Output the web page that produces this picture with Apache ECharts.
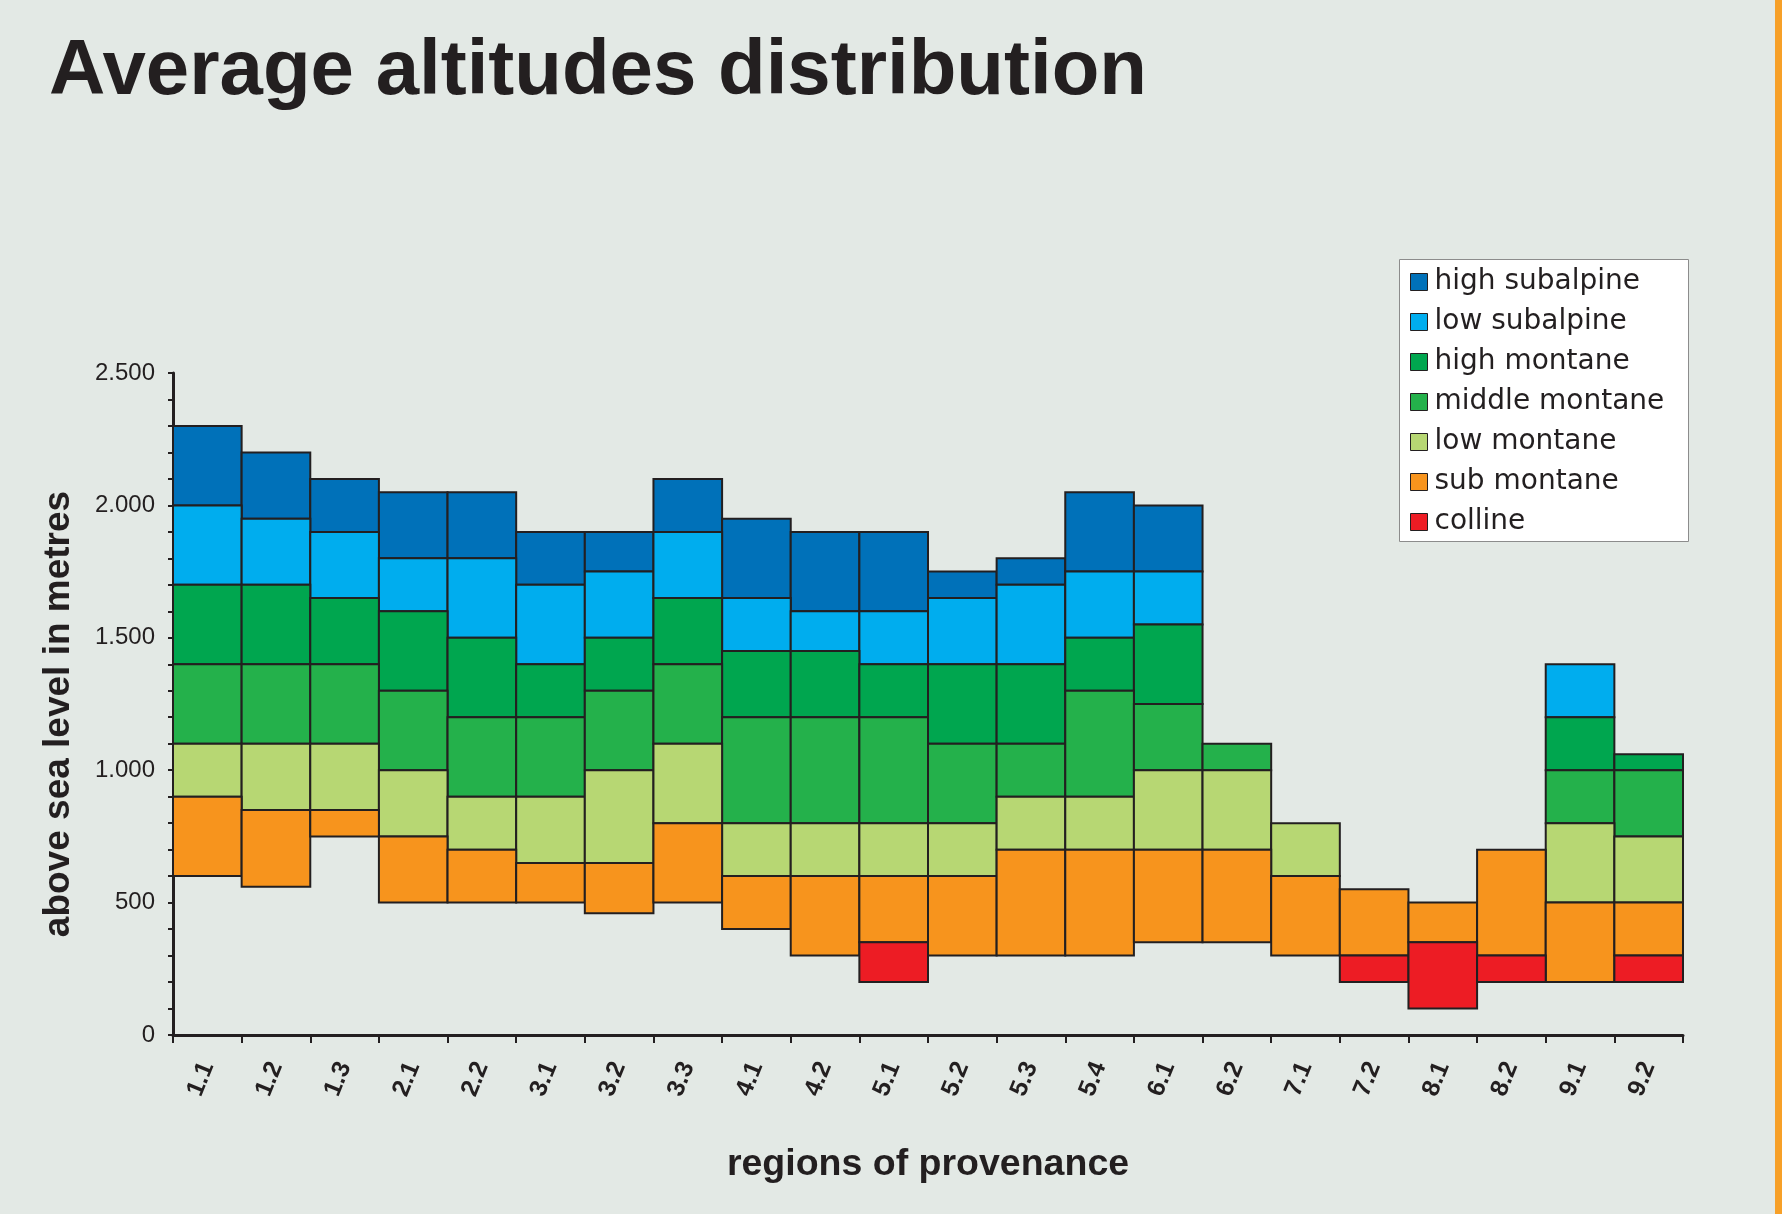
<!DOCTYPE html>
<html>
<head>
<meta charset="utf-8">
<script src="https://cdn.jsdelivr.net/npm/echarts@6/dist/echarts.min.js"></script>
<style>
  html, body { margin: 0; padding: 0; background: #e3e9e5; }
  #chart { width: 1782px; height: 1214px; }
</style>
</head>
<body>
<div id="chart"></div>
<script>
const categories = ['1.1','1.2','1.3','2.1','2.2','3.1','3.2','3.3','4.1','4.2','5.1','5.2','5.3','5.4','6.1','6.2','7.1','7.2','8.1','8.2','9.1','9.2'];
const yTickLabels = ['0','500','1.000','1.500','2.000','2.500'];
const seriesNames = ['high subalpine','low subalpine','high montane','middle montane','low montane','sub montane','colline'];

// [bottom, top] in metres per region, null = band absent
const highSubalpine = [[2000,2300],[1950,2200],[1900,2100],[1800,2050],[1800,2050],[1700,1900],[1750,1900],[1900,2100],[1650,1950],[1600,1900],[1600,1900],[1650,1750],[1700,1800],[1750,2050],[1750,2000],null,null,null,null,null,null,null];
const lowSubalpine = [[1700,2000],[1700,1950],[1650,1900],[1600,1800],[1500,1800],[1400,1700],[1500,1750],[1650,1900],[1450,1650],[1450,1600],[1400,1600],[1400,1650],[1400,1700],[1500,1750],[1550,1750],null,null,null,null,null,[1200,1400],null];
const highMontane = [[1400,1700],[1400,1700],[1400,1650],[1300,1600],[1200,1500],[1200,1400],[1300,1500],[1400,1650],[1200,1450],[1200,1450],[1200,1400],[1100,1400],[1100,1400],[1300,1500],[1250,1550],null,null,null,null,null,[1000,1200],[1000,1060]];
const middleMontane = [[1100,1400],[1100,1400],[1100,1400],[1000,1300],[900,1200],[900,1200],[1000,1300],[1100,1400],[800,1200],[800,1200],[800,1200],[800,1100],[900,1100],[900,1300],[1000,1250],[1000,1100],null,null,null,null,[800,1000],[750,1000]];
const lowMontane = [[900,1100],[850,1100],[850,1100],[750,1000],[700,900],[650,900],[650,1000],[800,1100],[600,800],[600,800],[600,800],[600,800],[700,900],[700,900],[700,1000],[700,1000],[600,800],null,null,null,[500,800],[500,750]];
const subMontane = [[600,900],[560,850],[750,850],[500,750],[500,700],[500,650],[460,650],[500,800],[400,600],[300,600],[350,600],[300,600],[300,700],[300,700],[350,700],[350,700],[300,600],[300,550],[350,500],[300,700],[200,500],[300,500]];
const colline = [null,null,null,null,null,null,null,null,null,null,[200,350],null,null,null,null,null,null,[200,300],[100,350],[200,300],null,[200,300]];

const bandData = [highSubalpine, lowSubalpine, highMontane, middleMontane, lowMontane, subMontane, colline];
const bandColors = ['#0071b9','#00adee','#00a64f','#24b14b','#b7d773','#f7941d','#ed1c24'];

const ink = '#231f20';

function renderBand(params, api) {
  const x = api.value(0);
  const lo = api.value(1);
  const hi = api.value(2);
  const pTop = api.coord([x, hi]);
  const pBot = api.coord([x, lo]);
  const w = api.size([1, 0])[0];
  return {
    type: 'rect',
    shape: { x: pTop[0] - w / 2, y: pTop[1], width: w, height: pBot[1] - pTop[1] },
    style: { fill: api.visual('color'), stroke: ink, lineWidth: 2 }
  };
}

const series = seriesNames.map((name, k) => ({
  name: name,
  type: 'custom',
  renderItem: renderBand,
  encode: { x: 0, y: [1, 2] },
  itemStyle: { color: bandColors[k], borderColor: ink, borderWidth: 1 },
  data: bandData[k].map((v, i) => v ? [i, v[0], v[1]] : null).filter(d => d)
}));

const chart = echarts.init(document.getElementById('chart'), null, { renderer: 'canvas' });
chart.setOption({
  backgroundColor: '#e3e9e5',
  animation: false,
  title: {
    text: 'Average altitudes distribution',
    left: 49,
    top: 33,
    padding: 0,
    textStyle: { fontFamily: 'Liberation Sans', fontWeight: 'bold', fontSize: 78, color: ink }
  },
  graphic: [
    { type: 'rect', shape: { x: 1775, y: 0, width: 7, height: 1214 }, style: { fill: '#f7a028' }, z: 100 },
    { type: 'rect', shape: { x: 1399.5, y: 259.5, width: 289, height: 282 }, style: { fill: '#ffffff', stroke: '#8c8c8c', lineWidth: 1 }, z: 0 }
  ],
  legend: {
    data: seriesNames,
    orient: 'vertical',
    left: 1410,
    top: 268,
    padding: 0,
    itemGap: 12,
    itemWidth: 17,
    itemHeight: 17,
    icon: 'rect',
    z: 10,
    itemStyle: { borderColor: ink, borderWidth: 1 },
    textStyle: { fontFamily: 'DejaVu Sans', fontSize: 28, color: ink, padding: [0, 0, 0, 2] }
  },
  grid: { left: 173, right: 99, top: 373, bottom: 179, containLabel: false },
  xAxis: {
    type: 'category',
    data: categories,
    boundaryGap: true,
    name: 'regions of provenance',
    nameLocation: 'middle',
    nameGap: 111,
    nameTextStyle: { fontFamily: 'Liberation Sans', fontWeight: 'bold', fontSize: 37.5, color: ink },
    axisLine: { show: true, lineStyle: { color: ink, width: 3 } },
    axisTick: { show: true, length: 8, lineStyle: { color: ink, width: 2 } },
    axisLabel: { rotate: 68, margin: 28, interval: 0, fontFamily: 'Liberation Sans', fontWeight: 'bold', fontSize: 25, color: ink },
    splitLine: { show: false }
  },
  yAxis: {
    type: 'value',
    min: 0,
    max: 2500,
    interval: 500,
    name: 'above sea level in metres',
    nameLocation: 'middle',
    nameGap: 96,
    nameTextStyle: { fontFamily: 'Liberation Sans', fontWeight: 'bold', fontSize: 37, color: ink, padding: [0, 20, 0, 0] },
    axisLine: { show: true, lineStyle: { color: ink, width: 3 } },
    axisTick: { show: true, length: 5, lineStyle: { color: ink, width: 2 } },
    minorTick: { show: true, splitNumber: 5, length: 5, lineStyle: { color: ink, width: 2 } },
    axisLabel: {
      margin: 18,
      fontFamily: 'Liberation Sans',
      fontSize: 24,
      color: ink,
      formatter: v => yTickLabels[Math.round(v / 500)]
    },
    splitLine: { show: false }
  },
  series: series
});
</script>
</body>
</html>
